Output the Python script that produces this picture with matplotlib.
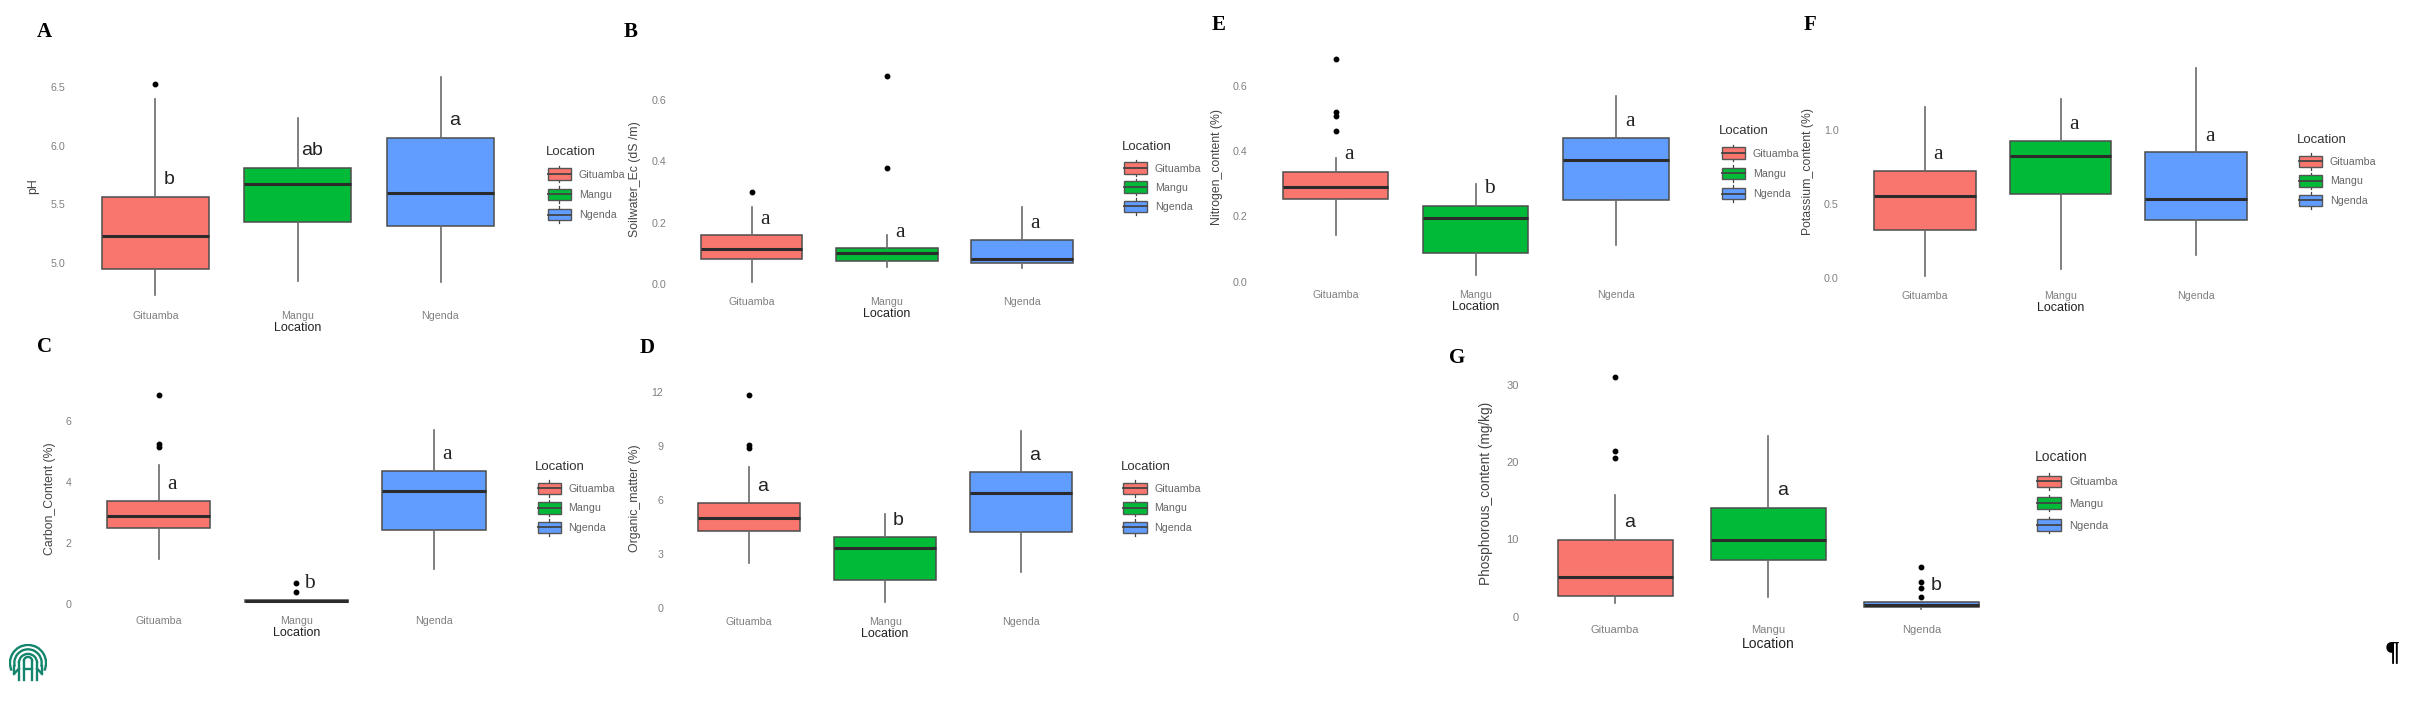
import matplotlib
matplotlib.use("Agg")
import matplotlib.pyplot as plt
from matplotlib.legend_handler import HandlerBase
from matplotlib.lines import Line2D
from matplotlib.patches import Arc, Patch, Rectangle

plt.rcParams["font.family"] = ["Liberation Sans", "DejaVu Sans"]

# ---------------- data ----------------
LOCATIONS = ["Gituamba", "Mangu", "Ngenda"]
COLORS = ["#F8766D", "#00BA38", "#619CFF"]

PH_WLO = [4.72, 4.84, 4.835]
PH_Q1 = [4.95, 5.345, 5.31]
PH_MED = [5.23, 5.67, 5.60]
PH_Q3 = [5.56, 5.81, 6.07]
PH_WHI = [6.40, 6.24, 6.59]
PH_OUT = [[6.53], [], []]
PH_TICKS = [5.0, 5.5, 6.0, 6.5]
PH_LETTERS = ["b", "ab", "a"]
PH_LETTER_Y = [5.71, 5.96, 6.215]

EC_WLO = [0.004, 0.053, 0.051]
EC_Q1 = [0.082, 0.075, 0.069]
EC_MED = [0.112, 0.10, 0.08]
EC_Q3 = [0.159, 0.116, 0.144]
EC_WHI = [0.25, 0.16, 0.25]
EC_OUT = [[0.30], [0.38, 0.68], []]
EC_TICKS = [0.0, 0.2, 0.4, 0.6]
EC_LETTERS = ["a", "a", "a"]
EC_LETTER_Y = [0.2116, 0.169, 0.1985]

C_WLO = [1.46, 0.08, 1.16]
C_Q1 = [2.50, 0.08, 2.44]
C_MED = [2.90, 0.10, 3.70]
C_Q3 = [3.38, 0.12, 4.37]
C_WHI = [4.56, 0.14, 5.69]
C_OUT = [[5.14, 5.25, 6.84], [0.38, 0.69], []]
C_TICKS = [0, 2, 4, 6]
C_LETTERS = ["a", "b", "a"]
C_LETTER_Y = [3.92, 0.656, 4.91]

OM_WLO = [2.49, 0.35, 1.99]
OM_Q1 = [4.30, 1.59, 4.21]
OM_MED = [4.98, 3.36, 6.39]
OM_Q3 = [5.83, 3.95, 7.53]
OM_WHI = [7.85, 5.24, 9.82]
OM_OUT = [[8.86, 9.05, 11.8], [], []]
OM_TICKS = [0, 3, 6, 9, 12]
OM_LETTERS = ["a", "b", "a"]
OM_LETTER_Y = [6.74, 4.87, 8.45]

N_WLO = [0.142, 0.0215, 0.111]
N_Q1 = [0.2536, 0.089, 0.2495]
N_MED = [0.291, 0.196, 0.372]
N_Q3 = [0.336, 0.232, 0.44]
N_WHI = [0.38, 0.30, 0.57]
N_OUT = [[0.461, 0.509, 0.52, 0.682], [], []]
N_TICKS = [0.0, 0.2, 0.4, 0.6]
N_LETTERS = ["a", "b", "a"]
N_LETTER_Y = [0.39, 0.285, 0.492]

K_WLO = [0.011, 0.061, 0.151]
K_Q1 = [0.324, 0.563, 0.39]
K_MED = [0.554, 0.822, 0.534]
K_Q3 = [0.723, 0.926, 0.847]
K_WHI = [1.151, 1.21, 1.419]
K_OUT = [[], [], []]
K_TICKS = [0.0, 0.5, 1.0]
K_LETTERS = ["a", "a", "a"]
K_LETTER_Y = [0.833, 1.038, 0.957]

P_WLO = [1.73, 2.5, 0.95]
P_Q1 = [2.72, 7.29, 1.25]
P_MED = [5.18, 9.97, 1.51]
P_Q3 = [9.88, 14.07, 1.86]
P_WHI = [15.8, 23.35, 1.86]
P_OUT = [[20.5, 21.4, 31.1], [], [2.5, 3.67, 4.53, 6.47]]
P_TICKS = [0, 10, 20, 30]
P_LETTERS = ["a", "a", "b"]
P_LETTER_Y = [12.2, 16.4, 4.1]

# ---------------- layout ----------------
W, H = 2410, 702
DPI = 100
PX = 72 / DPI  # points per pixel
LETTER_DX = 0.097

fig = plt.figure(figsize=(W / DPI, H / DPI), dpi=DPI, facecolor="white")


class BoxKey(HandlerBase):
    """ggplot-style legend key: small box with whisker and median."""

    def create_artists(self, legend, orig, xd, yd, width, height, fontsize, trans):
        margin = 2.5 * PX
        x0 = margin - xd
        w = width - margin
        cy = height / 2 - yd
        h = 11.5 * PX
        whisk = Line2D([x0 + w / 2] * 2, [cy - h / 2 - 2.5 * PX, cy + h / 2 + 2.5 * PX],
                       color="#444444", lw=0.9, transform=trans)
        rect = Rectangle((x0, cy - h / 2), w, h, facecolor=orig.get_facecolor(),
                         edgecolor="#555555", lw=1.0, transform=trans)
        med = Line2D([x0, x0 + w], [cy, cy], color="#444444", lw=1.3, transform=trans)
        return [whisk, rect, med]


def panel(wlo, q1, med, q3, whi, out, ticks, letters, letter_y, ylabel, tag,
          cat_px, tick_px, ylabel_x, tag_xy, legend_xy, leg_step, letter_family,
          tick_fs=7.7, axis_fs=9.0, title_fs=9.5):
    x1, x3 = cat_px
    step = (x3 - x1) / 2
    left = x1 - 0.6 * step
    width = 3.2 * step

    # y range: ggplot's 5 % expansion around everything that is drawn
    everything = wlo + whi + q1 + q3 + [v for group in out for v in group]
    lo, hi = min(everything), max(everything)
    ymin, ymax = lo - 0.05 * (hi - lo), hi + 0.05 * (hi - lo)
    (t0, p0), (t1, p1) = (ticks[0], tick_px[0]), (ticks[-1], tick_px[1])
    scale = (p0 - p1) / (t1 - t0)
    bottom = p0 + (t0 - ymin) * scale
    top = p0 - (ymax - t0) * scale

    ax = fig.add_axes([left / W, 1 - bottom / H, width / W, (bottom - top) / H])
    stats = [dict(whislo=wlo[i], q1=q1[i], med=med[i], q3=q3[i], whishi=whi[i], fliers=out[i])
             for i in range(3)]
    parts = ax.bxp(stats, positions=[1, 2, 3], widths=0.75, patch_artist=True, showcaps=False,
                   boxprops=dict(edgecolor="#4d4d4d", linewidth=1.1),
                   medianprops=dict(color="#2b2b2b", linewidth=2.2, solid_capstyle="butt"),
                   whiskerprops=dict(color="#6a6a6a", linewidth=1.2),
                   flierprops=dict(marker="o", markersize=3.2, markerfacecolor="black",
                                   markeredgecolor="black", linestyle="none"))
    for box, color in zip(parts["boxes"], COLORS):
        box.set_facecolor(color)

    for i, (s, y) in enumerate(zip(letters, letter_y)):
        ax.text(i + 1 + LETTER_DX, y, s, ha="center", va="center", color="#222222",
                family=letter_family, fontsize=14 if letter_family == "Liberation Sans" else 15.5)

    ax.set_xlim(0.4, 3.6)
    ax.set_ylim(ymin, ymax)
    ax.set_xticks([1, 2, 3], LOCATIONS)
    ax.set_yticks(ticks)
    if isinstance(ticks[0], float):
        ax.set_yticklabels([f"{t:.1f}" for t in ticks])
    else:
        ax.set_yticklabels([str(t) for t in ticks])
    ax.tick_params(axis="both", length=0, labelsize=tick_fs, labelcolor="#808080", pad=3.2)
    for sp in ax.spines.values():
        sp.set_visible(False)
    ax.set_xlabel("Location", fontsize=axis_fs, color="#222222", labelpad=0.8)
    ax.set_ylabel(ylabel, fontsize=axis_fs - 0.2, color="#444444")
    ax.yaxis.set_label_coords((ylabel_x - left) / width, 0.5)

    handles = [Patch(facecolor=c, label=n) for c, n in zip(COLORS, LOCATIONS)]
    handle_h = 1.7
    # matplotlib's own entry height for a given handleheight
    entry_h = handle_h * tick_fs - 0.35 * tick_fs * (handle_h - 0.7)
    spacing = (leg_step * PX - entry_h) / tick_fs
    leg = ax.legend(handles=handles, title="Location", loc="upper left",
                    bbox_to_anchor=(legend_xy[0] / W, 1 - legend_xy[1] / H),
                    bbox_transform=fig.transFigure, frameon=False, fontsize=tick_fs,
                    title_fontsize=title_fs, borderpad=0, borderaxespad=0,
                    handlelength=2.4, handleheight=handle_h, labelspacing=spacing,
                    handletextpad=0.72, alignment="left", handler_map={Patch: BoxKey()})
    leg._legend_box.sep = leg._legend_box.sep + 2.2  # wider gap below the legend title
    leg.get_title().set_color("#333333")
    for t in leg.get_texts():
        t.set_color("#666666")

    fig.text(tag_xy[0] / W, 1 - tag_xy[1] / H, tag, family="Liberation Serif", weight="bold",
             fontsize=15, ha="center", va="center", color="black")


panel(PH_WLO, PH_Q1, PH_MED, PH_Q3, PH_WHI, PH_OUT, PH_TICKS, PH_LETTERS, PH_LETTER_Y,
      "pH", "A", (155.4, 440.5), (262.7, 87.3), 39.4, (44.4, 31.7), (545.4, 146), 20.3,
      "Liberation Sans")
panel(EC_WLO, EC_Q1, EC_MED, EC_Q3, EC_WHI, EC_OUT, EC_TICKS, EC_LETTERS, EC_LETTER_Y,
      "Soilwater_Ec (dS /m)", "B", (751.5, 1022.1), (283.7, 100.3), 641.3, (630.6, 32),
      (1121.6, 141), 19.2, "Liberation Serif")
panel(C_WLO, C_Q1, C_MED, C_Q3, C_WHI, C_OUT, C_TICKS, C_LETTERS, C_LETTER_Y,
      "Carbon_Content (%)", "C", (158.8, 434.0), (604.0, 421.0), 55.5, (44, 347),
      (535, 461), 19.5, "Liberation Serif")
panel(OM_WLO, OM_Q1, OM_MED, OM_Q3, OM_WHI, OM_OUT, OM_TICKS, OM_LETTERS, OM_LETTER_Y,
      "Organic_matter (%)", "D", (749.3, 1021.0), (608.3, 391.7), 641.3, (646.7, 347.7),
      (1120.9, 461), 19.5, "Liberation Sans")
panel(N_WLO, N_Q1, N_MED, N_Q3, N_WHI, N_OUT, N_TICKS, N_LETTERS, N_LETTER_Y,
      "Nitrogen_content (%)", "E", (1335.9, 1616.0), (281.7, 86.0), 1223, (1218.4, 25),
      (1719.3, 125), 20.3, "Liberation Serif")
panel(K_WLO, K_Q1, K_MED, K_Q3, K_WHI, K_OUT, K_TICKS, K_LETTERS, K_LETTER_Y,
      "Potassium_content (%)", "F", (1924.6, 2196.4), (277.7, 129.7), 1814, (1809.6, 25),
      (2296.5, 134), 19.5, "Liberation Serif")
panel(P_WLO, P_Q1, P_MED, P_Q3, P_WHI, P_OUT, P_TICKS, P_LETTERS, P_LETTER_Y,
      "Phosphorous_content (mg/kg)", "G", (1615.2, 1921.3), (616.7, 385.0), 1493.4, (1456.7, 358),
      (2034.7, 450), 21.8, "Liberation Sans", tick_fs=8.0, axis_fs=10.0, title_fs=10.0)

fig.text(2392 / W, 1 - 653 / H, "¶", family="Liberation Serif", weight="bold", fontsize=20,
         ha="center", va="center", color="black")

# small publisher mark, bottom-left corner
logo = fig.add_axes([9 / W, 1 - 682 / H, 38 / W, 38 / H])
logo.set_xlim(-1, 1)
logo.set_ylim(-1, 1)
logo.axis("off")
TEAL = "#12856c"
for r, a0, a1 in [(0.95, -25, 205), (0.72, -15, 195), (0.48, 0, 180)]:
    logo.add_patch(Arc((0, 0), 2 * r, 2 * r, theta1=a0, theta2=a1, color=TEAL, lw=1.7))
for x0, x1, y0, y1 in [(-0.72, -0.72, -0.15, -0.6), (0.72, 0.72, -0.15, -0.6), (-0.48, -0.48, 0.0, -0.9),
                       (0.48, 0.48, 0.0, -0.9), (-0.22, -0.22, 0.1, -0.9), (0.22, 0.22, 0.1, -0.9),
                       (-0.22, 0.22, -0.3, -0.3), (-0.72, -0.48, -0.55, -0.3), (0.72, 0.48, -0.55, -0.3)]:
    logo.plot([x0, x1], [y0, y1], color=TEAL, lw=1.7)
logo.add_patch(Arc((0, 0.1), 0.44, 0.44, theta1=0, theta2=180, color=TEAL, lw=1.7))

fig.savefig("out.png", dpi=DPI, facecolor="white")
